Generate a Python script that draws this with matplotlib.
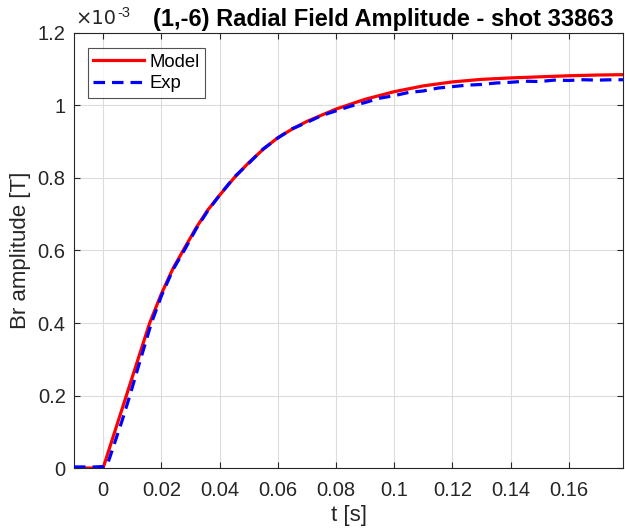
import matplotlib
matplotlib.use("Agg")
import matplotlib.pyplot as plt
from matplotlib.ticker import FuncFormatter

plt.rcParams['font.family'] = ['Liberation Sans', 'DejaVu Sans']

# Model curve (time in s, Br in units of 1e-3 T)
t_model = [-0.01, 0.0, 0.004, 0.008, 0.012, 0.016, 0.020, 0.024, 0.028, 0.032,
           0.036, 0.040, 0.045, 0.050, 0.055, 0.060, 0.065, 0.070, 0.080, 0.090,
           0.100, 0.110, 0.120, 0.130, 0.140, 0.150, 0.160, 0.170, 0.179]
br_model = [0.0, 0.0, 0.10, 0.20, 0.30, 0.40, 0.48, 0.55, 0.607, 0.663,
            0.712, 0.752, 0.800, 0.842, 0.879, 0.911, 0.935, 0.956, 0.990, 1.017,
            1.038, 1.054, 1.065, 1.072, 1.076, 1.079, 1.082, 1.084, 1.085]

# Experimental curve
t_exp = [-0.01, -0.006, -0.003, 0.0, 0.0015, 0.004, 0.0065, 0.0092, 0.0125, 0.0166,
         0.020, 0.024, 0.028, 0.032, 0.036, 0.040, 0.045, 0.050, 0.055, 0.060,
         0.065, 0.070, 0.075, 0.080, 0.085, 0.090, 0.095, 0.100, 0.105, 0.110,
         0.115, 0.120, 0.125, 0.130, 0.135, 0.140, 0.145, 0.150, 0.155, 0.160,
         0.165, 0.170, 0.175, 0.179]
br_exp = [0.003, 0.003, 0.003, 0.004, 0.010, 0.07, 0.13, 0.20, 0.29, 0.40,
          0.474, 0.547, 0.602, 0.660, 0.710, 0.752, 0.802, 0.840, 0.880, 0.910,
          0.936, 0.953, 0.972, 0.985, 0.998, 1.008, 1.020, 1.027, 1.036, 1.040,
          1.048, 1.052, 1.056, 1.058, 1.062, 1.064, 1.067, 1.066, 1.070, 1.069,
          1.071, 1.070, 1.071, 1.071]

x_ticks = [0, 0.02, 0.04, 0.06, 0.08, 0.1, 0.12, 0.14, 0.16]
x_ticklabels = ['0', '0.02', '0.04', '0.06', '0.08', '0.1', '0.12', '0.14', '0.16']
y_ticks = [0, 0.2e-3, 0.4e-3, 0.6e-3, 0.8e-3, 1.0e-3, 1.2e-3]

dark = '#262626'

fig = plt.figure(figsize=(6.25, 5.31), dpi=100)
ax = fig.add_axes([0.1184, 0.1186, 0.8786, 0.8193])

ax.plot(t_model, [b * 1e-3 for b in br_model], color='#ff0000',
        lw=2.3, label='Model', zorder=3)
ax.plot(t_exp, [b * 1e-3 for b in br_exp], color='#0000ff', lw=2.3,
        ls=(0, (3.6, 2.2)), label='Exp', zorder=4)

ax.set_xlim(-0.01, 0.1787)
ax.set_ylim(0, 1.2e-3)
ax.set_xticks(x_ticks)
ax.set_xticklabels(x_ticklabels)
ax.set_yticks(y_ticks)
ax.yaxis.set_major_formatter(FuncFormatter(lambda v, p: f'{v * 1e3:g}'))

# MATLAB-style exponent label
ax.text(0.003, 1.012, '\u00d710', transform=ax.transAxes, fontsize=14,
        color=dark, ha='left', va='bottom', family=['DejaVu Sans'])
ax.text(0.079, 1.03, '-3', transform=ax.transAxes, fontsize=10.5,
        color=dark, ha='left', va='bottom')

ax.grid(True, color='#dcdcdc', lw=0.8)
ax.set_axisbelow(True)
ax.tick_params(direction='in', top=True, right=True, labelsize=14.5,
               colors=dark, length=4, width=0.8)
ax.tick_params(axis='x', pad=9)
ax.tick_params(axis='y', pad=6)
for s in ax.spines.values():
    s.set_color(dark)
    s.set_linewidth(0.8)

ax.set_xlabel('t [s]', fontsize=16, color=dark, labelpad=4)
ax.set_ylabel('Br amplitude [T]', fontsize=16, color=dark, labelpad=5)
ax.set_title('(1,-6) Radial Field Amplitude - shot 33863', fontsize=17,
             fontweight='bold', x=0.563, pad=5)

leg = ax.legend(loc='upper left', bbox_to_anchor=(0.025, 0.965), fontsize=13.3,
                fancybox=False, edgecolor=dark, handlelength=2.75,
                borderpad=0.3, labelspacing=0.25, handletextpad=0.3,
                borderaxespad=0)
leg.get_frame().set_linewidth(0.8)

fig.savefig('out.png', dpi=100)
